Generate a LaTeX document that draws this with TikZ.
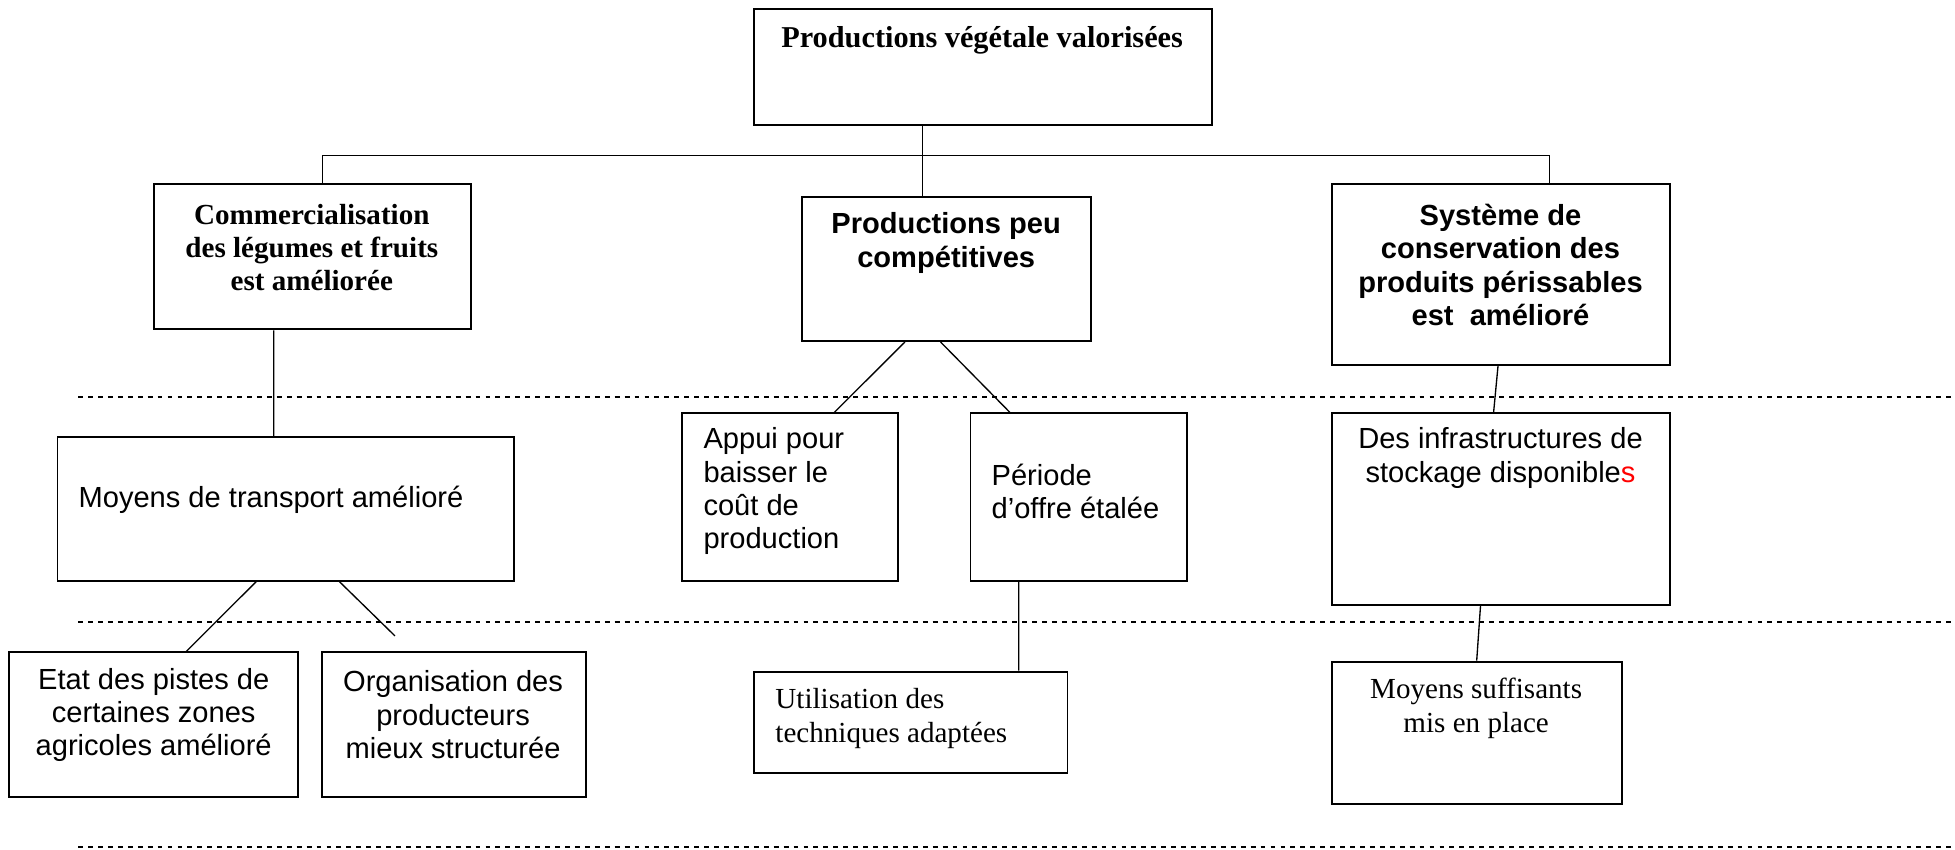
\documentclass[tikz,border=0pt]{standalone}
\usepackage{fontspec}
\setmainfont{Liberation Serif}
\newfontfamily\arial{Liberation Sans}

\begin{document}
\begin{tikzpicture}[
	box/.style={draw, line width=0.8pt, inner sep=0pt},
	link/.style={line width=0.55pt},
	sep/.style={line width=0.85pt, dash pattern=on 2pt off 2.1pt},
	serifb/.style={font=\fontsize{12}{13.8}\selectfont\bfseries, align=center, inner sep=0pt},
	sansb/.style={font=\fontsize{12}{13.8}\selectfont\arial\bfseries, align=center, inner sep=0pt},
	sans/.style={font=\fontsize{12}{13.8}\selectfont\arial, inner sep=0pt},
	serif/.style={font=\fontsize{12}{14.2}\selectfont, inner sep=0pt}]
	\useasboundingbox (0,0) rectangle (28.35,-12.325);

	\draw[sep] (1.133,-5.751)--(28.35,-5.751);
	\draw[sep] (1.133,-9.014)--(28.35,-9.014);
	\draw[sep] (1.133,-12.276)--(28.35,-12.276);

	\node[box, minimum width=6.63cm, minimum height=1.677cm] (top) at (14.255,-0.974) {};
	\node[serifb, font=\fontsize{12.5}{14}\selectfont\bfseries] (topT) at (14.242,-0.58) {Productions végétale valorisées};

	\node[box, minimum width=4.586cm, minimum height=2.103cm] (comm) at (4.531,-3.725) {};
	\node[serifb] (commT) at (4.522,-3.589) {Commercialisation\\des légumes et fruits\\est améliorée};

	\node[box, minimum width=4.187cm, minimum height=2.094cm] (peu) at (13.73,-3.898) {};
	\node[sansb] (peuT) at (13.721,-3.525) {Productions peu\\compétitives};

	\node[box, minimum width=4.903cm, minimum height=2.619cm] (sys) at (21.764,-3.983) {};
	\node[sansb] (sysT) at (21.759,-3.843) {Système de\\conservation des\\produits périssables\\est\ \ amélioré};

	\node[box, minimum width=6.624cm, minimum height=2.077cm] (transp) at (4.146,-7.381) {};
	\node[sans, anchor=west] (transpT) at (1.133,-7.25) {Moyens de transport amélioré};

	\node[box, minimum width=3.136cm, minimum height=2.425cm] (appui) at (11.455,-7.207) {};
	\node[sans, align=left, anchor=west] (appuiT) at (10.195,-7.123) {Appui pour\\baisser le\\coût de\\production};

	\node[box, minimum width=3.145cm, minimum height=2.425cm] (periode) at (15.646,-7.207) {};
	\node[sans, align=left, anchor=west] (periodeT) at (14.373,-7.129) {Période\\d’offre étalée};

	\node[box, minimum width=4.903cm, minimum height=2.779cm] (infra) at (21.764,-7.383) {};
	\node[sans, align=center] (infraT) at (21.759,-6.643) {Des infrastructures de\\stockage disponible\textcolor{red}{s}};

	\node[box, minimum width=4.187cm, minimum height=2.103cm] (etat) at (2.229,-10.512) {};
	\node[sans, align=center] (etatT) at (2.229,-10.368) {Etat des pistes de\\certaines zones\\agricoles amélioré};

	\node[box, minimum width=3.834cm, minimum height=2.103cm] (orga) at (6.584,-10.512) {};
	\node[sans, align=center] (orgaT) at (6.570,-10.368) {Organisation des\\producteurs\\mieux structurée};

	\node[box, minimum width=4.541cm, minimum height=1.475cm] (utili) at (13.209,-10.476) {};
	\node[serif, align=left, anchor=west] (utiliT) at (11.238,-10.422) {Utilisation des\\techniques adaptées};

	\node[box, minimum width=4.205cm, minimum height=2.065cm] (suff) at (21.414,-10.626) {};
	\node[serif, align=center] (suffT) at (21.406,-10.268) {Moyens suffisants\\mis en place};

	\coordinate (barL) at (4.676,-2.257);
	\coordinate (barR) at (22.466,-2.257);
	\coordinate (hub) at (13.376,-2.257);
	\coordinate (loose) at (5.728,-9.222);
	\draw[link] (barL |- comm.north) |- (barR) -- (barR |- sys.north);
	\draw[link] (hub |- top.south) -- (hub |- peu.north);

	\draw[link] ([xshift=-0.562cm]comm.south) -- ([xshift=-0.177cm]transp.north);
	\draw[link] ([xshift=-0.43cm]transp.south) -- ([xshift=0.472cm]etat.north);
	\draw[link] ([xshift=0.775cm]transp.south) -- (loose);
	\draw[link] ([xshift=-0.607cm]peu.south) -- ([xshift=0.643cm]appui.north);
	\draw[link] ([xshift=-0.091cm]peu.south) -- ([xshift=-1.001cm]periode.north);
	\draw[link] ([xshift=-0.874cm]periode.south) -- ([xshift=1.563cm]utili.north);
	\draw[link] ([xshift=-0.041cm]sys.south) -- ([xshift=-0.105cm]infra.north);
	\draw[link] ([xshift=-0.295cm]infra.south) -- (suff.north);
\end{tikzpicture}
\end{document}
